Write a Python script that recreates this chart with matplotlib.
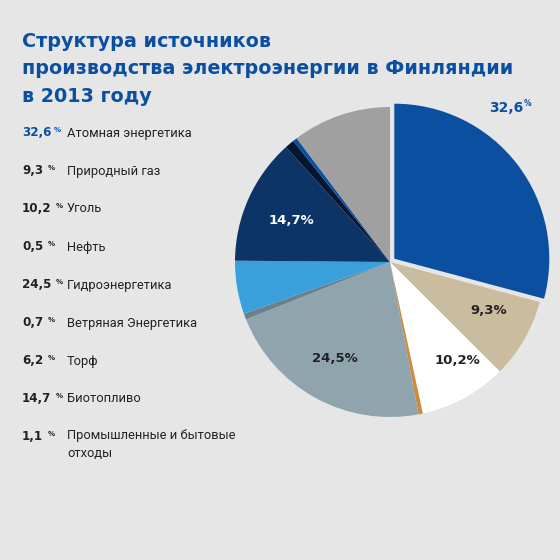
import matplotlib
matplotlib.use("Agg")
import matplotlib.pyplot as plt
import numpy as np

# data
sources = ["Атомная энергетика", "Природный газ", "Уголь", "Нефть",
           "Гидроэнергетика", "Ветряная Энергетика", "Торф", "Биотопливо",
           "Промышленные и бытовые\nотходы"]
shares = [32.6, 9.3, 10.2, 0.5, 24.5, 0.7, 6.2, 14.7, 1.1]
share_labels = ["32,6", "9,3", "10,2", "0,5", "24,5", "0,7", "6,2", "14,7", "1,1"]
# two unlabeled slices drawn in the pie after the listed ones
extra_shares = [0.5, 11.5]

colors = ["#0b4fa1", "#cbbca0", "#ffffff", "#d08a3a", "#90a4ae", "#6a808c",
          "#3aa0dc", "#0d3466", "#061530", "#0b4fa1", "#a0a0a0"]

BG = "#e6e6e6"
BLUE = "#0b4fa1"
DARK = "#222222"

W, H = 560, 560
fig = plt.figure(figsize=(W / 100, H / 100), dpi=100)
fig.patch.set_facecolor(BG)

# overlay axes in pixel coordinates (origin top-left) for the texts
bg = fig.add_axes([0, 0, 1, 1])
bg.set_xlim(0, W)
bg.set_ylim(H, 0)
bg.axis("off")

# title
title_lines = ["Структура источников",
               "производства электроэнергии в Финляндии",
               "в 2013 году"]
for i, line in enumerate(title_lines):
    bg.text(22, 47 + 27.5 * i, line, fontsize=13.8, fontweight="bold",
            color=BLUE, va="baseline", ha="left", family="DejaVu Sans")

# legend list on the left
for i, (lab, val) in enumerate(zip(sources, share_labels)):
    y = 133 + 38 * i
    c = BLUE if i == 0 else DARK
    t = bg.text(22, y, val, fontsize=8.6, fontweight="bold", color=c,
                va="center", ha="left", family="DejaVu Sans")
    bg.annotate("%", xy=(1, 0.75), xycoords=t, xytext=(1.5 if i == 0 else 3, 0),
                textcoords="offset points", fontsize=5, fontweight="bold",
                color=c, va="center", ha="left", annotation_clip=False)
    if "\n" in lab:
        bg.text(67, y - 8, lab, fontsize=9.3, color=DARK, va="top", ha="left",
                family="Roboto", linespacing=1.5)
    else:
        bg.text(67, y, lab, fontsize=9.3, color=DARK, va="center", ha="left",
                family="Roboto")

# pie
R = 155
cx, cy = 390, 262
lim = 1.25
size = R * lim * 2
ax = fig.add_axes([(cx - R * lim) / W, (H - cy - R * lim) / H, size / W, size / H])
values = shares + extra_shares
explode = [0.035] + [0] * (len(values) - 1)
wedges, _ = ax.pie(values, colors=colors, startangle=90, counterclock=False,
                   explode=explode, radius=1,
                   wedgeprops=dict(linewidth=0, antialiased=True))
ax.set_xlim(-lim, lim)
ax.set_ylim(-lim, lim)
ax.set_aspect("equal")
ax.axis("off")

# slice labels: (slice index, radius, angle shift, color)
inner = [(0, 1.21, 16, BLUE), (1, 0.71, 4, DARK), (2, 0.77, 6, DARK),
         (4, 0.72, -1, DARK), (7, 0.69, 1.5, "white")]
for idx, r, shift, c in inner:
    w = wedges[idx]
    mid = np.deg2rad((w.theta1 + w.theta2) / 2 + shift)
    x0, y0 = w.center
    x = x0 + r * np.cos(mid)
    y = y0 + r * np.sin(mid)
    if idx == 0:
        t = ax.text(x, y, share_labels[idx], fontsize=10, fontweight="bold",
                    color=c, ha="center", va="center")
        ax.annotate("%", xy=(1, 0.8), xycoords=t, xytext=(0.5, 0),
                    textcoords="offset points", fontsize=5.5, fontweight="bold",
                    color=c, va="center", ha="left")
    else:
        ax.text(x, y, share_labels[idx] + "%", fontsize=9.5, fontweight="bold",
                color=c, ha="center", va="center")

fig.savefig("out.png", dpi=100, facecolor=BG)
